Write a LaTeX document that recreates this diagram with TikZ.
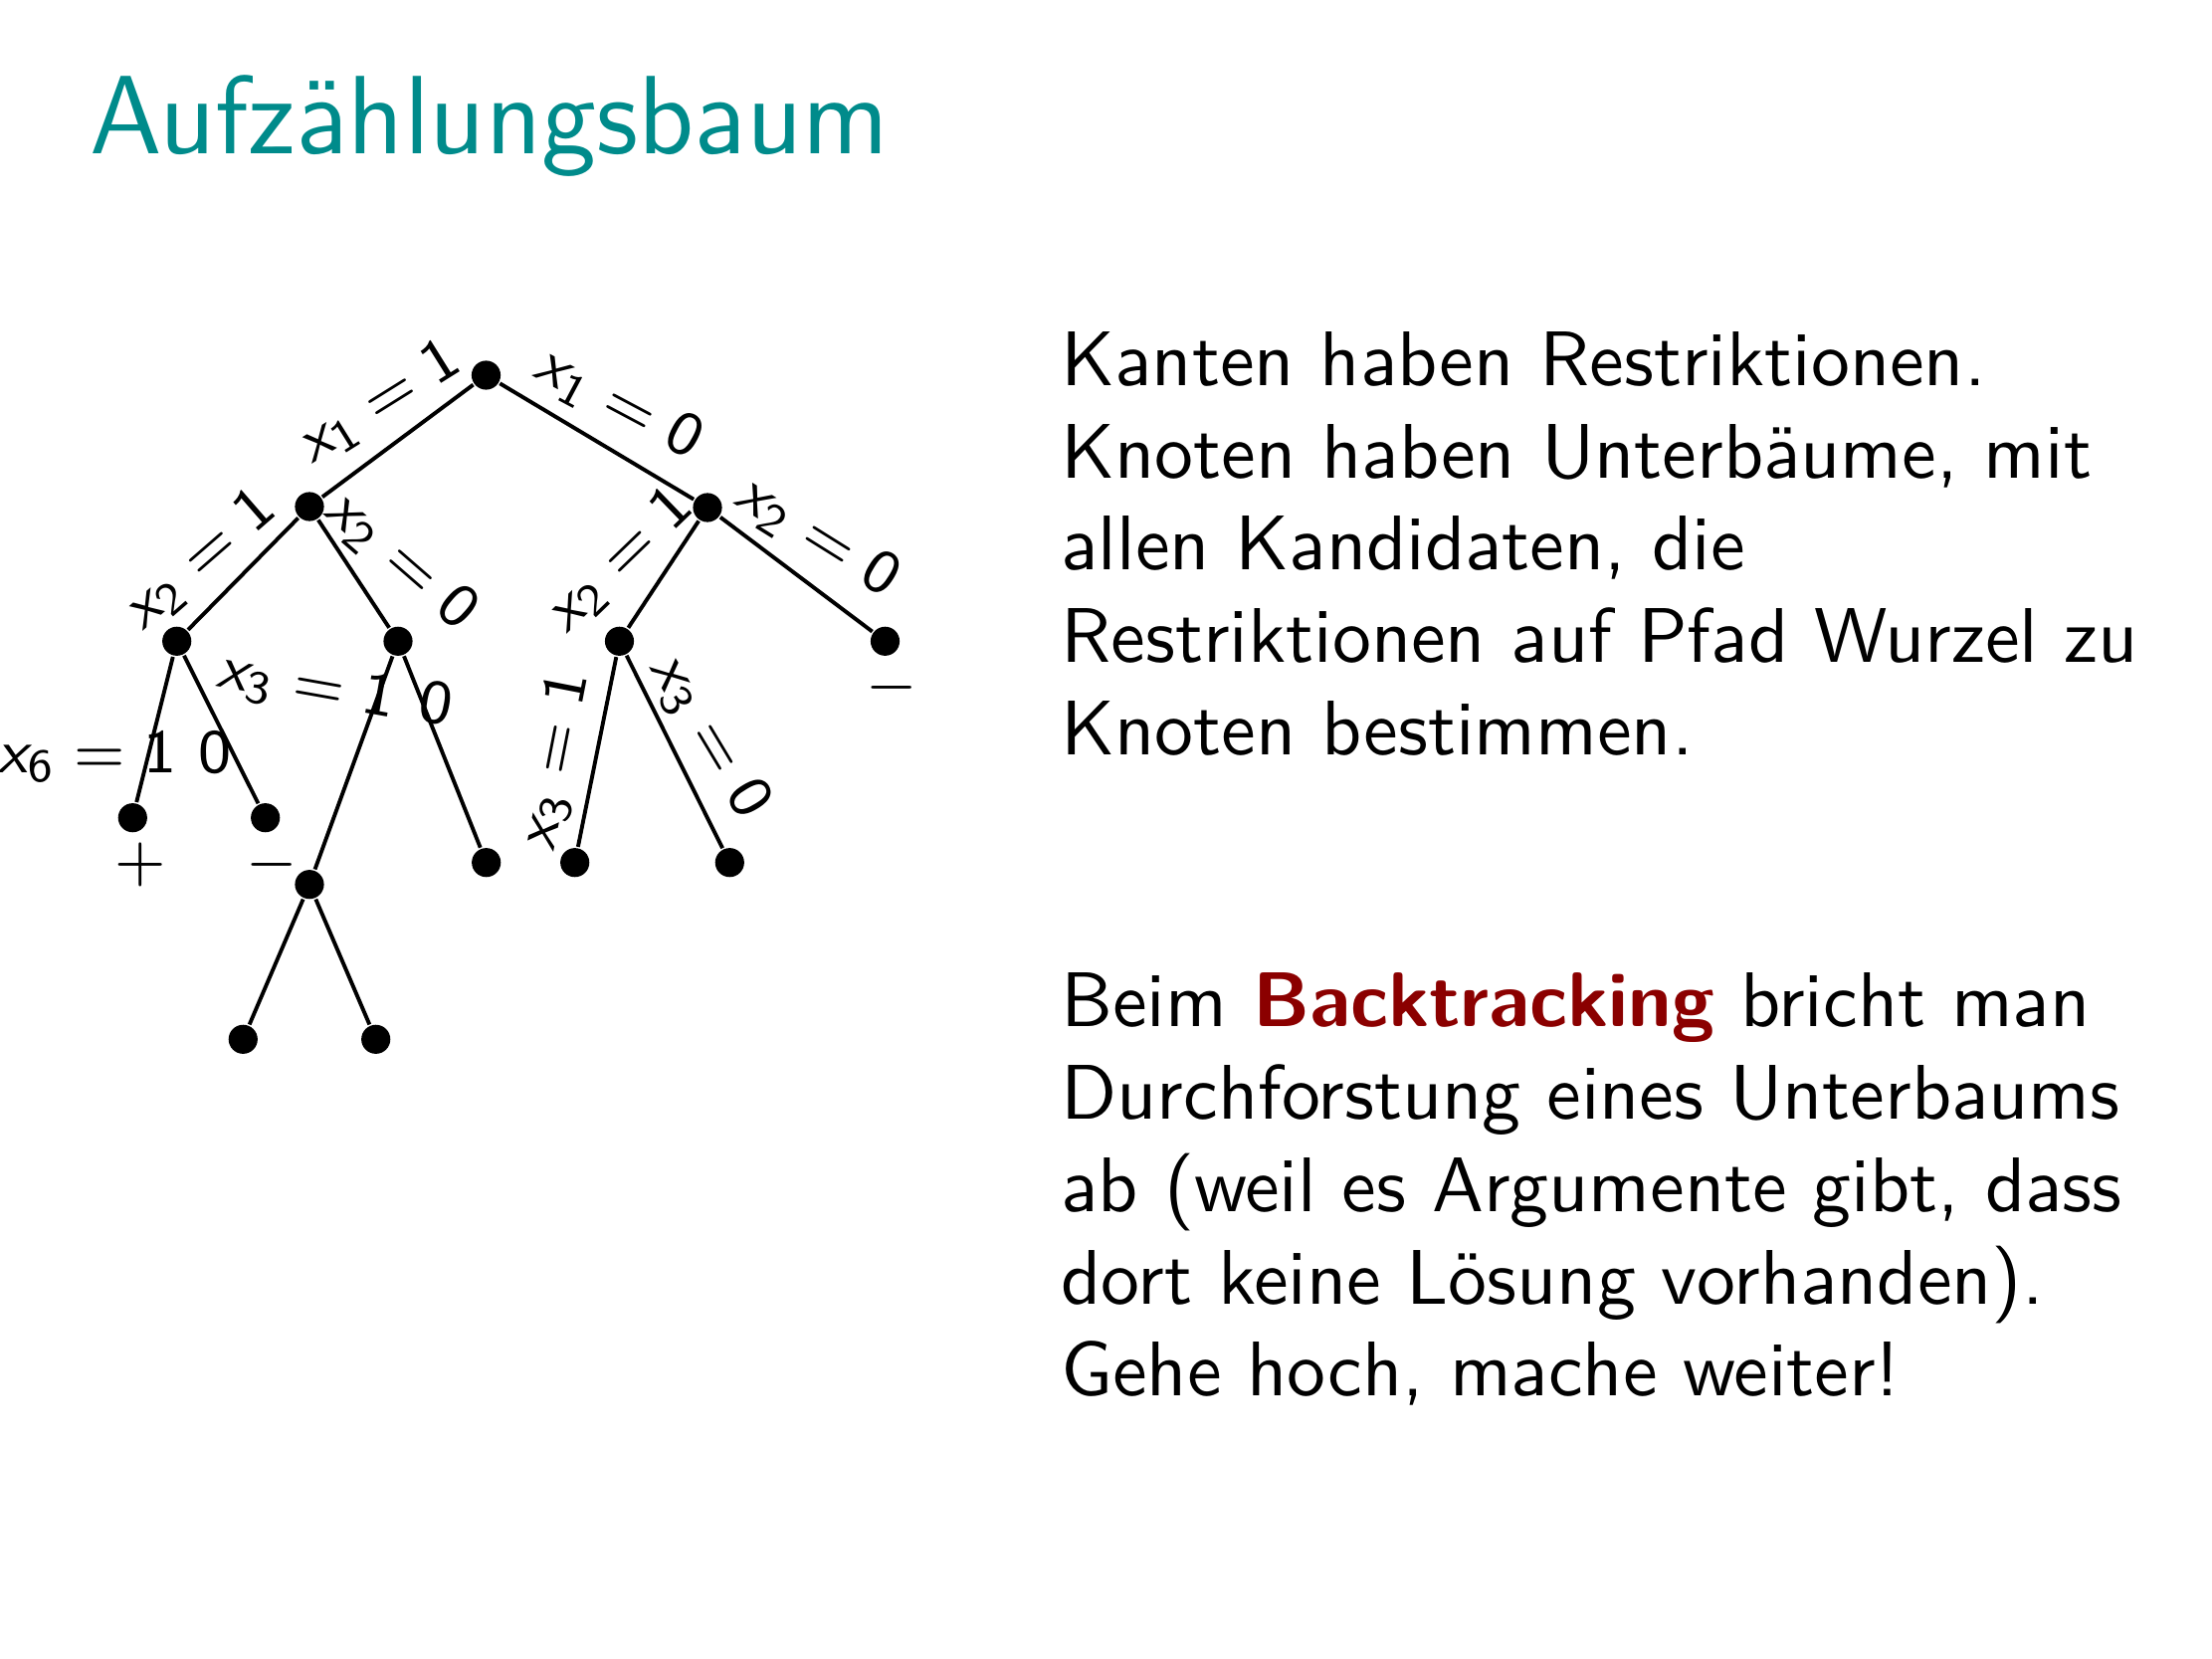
\documentclass[tikz,border=0pt]{standalone}
\usepackage{tikz}
\definecolor{framecol}{RGB}{0,139,139}
\definecolor{alertcol}{RGB}{139,0,0}
% edge restriction x_i = v, set in slanted sans
\newcommand{\asg}[2]{$\textsl{x}_{\mathsf{#1}}=\mathsf{#2}$}
\begin{document}
\begin{tikzpicture}[x=0.12856pt, y=-0.12856pt,
  dot/.style={circle, fill=black, inner sep=0pt, minimum size=3.75pt},
  edge/.style={line width=0.5pt},
  elab/.style={font=\sffamily\fontsize{8}{9.6}\selectfont, inner sep=0pt},
  sign/.style={font=\fontsize{8}{9.6}\selectfont, inner sep=0pt, anchor=base},
  body/.style={font=\sffamily\fontsize{10}{11.93}\selectfont, inner sep=0pt, anchor=base west},
  heading/.style={font=\sffamily\fontsize{14.4}{17}\selectfont, text=framecol, inner sep=0pt, anchor=base west}]
\useasboundingbox (0,0) rectangle (2223,1667);

% frame title
\node[heading] (title) at (89,155) {Aufzählungsbaum};

% tree nodes
\node[dot] (root) at (488.5,377) {};
\node[dot] (l)    at (311,509) {};
\node[dot] (r)    at (711,510) {};
\node[dot] (ll)   at (177.7,644.3) {};
\node[dot] (lr)   at (400,644.3) {};
\node[dot] (rl)   at (622.5,644.3) {};
\node[dot] (rr)   at (889.5,644.3) {};
\node[dot] (lll)  at (133.3,821.7) {};
\node[dot] (llr)  at (266.7,821.7) {};
\node[dot] (lrl)  at (311,888.7) {};
\node[dot] (lrr)  at (488.7,866.7) {};
\node[dot] (rll)  at (577.7,866.7) {};
\node[dot] (rlr)  at (733.3,866.7) {};
\node[dot] (lrll) at (244.3,1044.3) {};
\node[dot] (lrlr) at (377.7,1044.3) {};

% tree edges
\draw[edge] (root) -- (l);
\draw[edge] (root) -- (r);
\draw[edge] (l) -- (ll);
\draw[edge] (l) -- (lr);
\draw[edge] (r) -- (rl);
\draw[edge] (r) -- (rr);
\draw[edge] (ll) -- (lll);
\draw[edge] (ll) -- (llr);
\draw[edge] (lr) -- (lrl);
\draw[edge] (lr) -- (lrr);
\draw[edge] (rl) -- (rll);
\draw[edge] (rl) -- (rlr);
\draw[edge] (lrl) -- (lrll);
\draw[edge] (lrl) -- (lrlr);

% edge restrictions
\node[elab, rotate=32]    (e1)  at (382,405)     {\asg{1}{1}};
\node[elab, rotate=-28]   (e2)  at (621.5,406)   {\asg{1}{0}};
\node[elab, rotate=41]    (e3)  at (201.5,563.5) {\asg{2}{1}};
\node[elab, rotate=-41]   (e4)  at (403,564)     {\asg{2}{0}};
\node[elab, rotate=44]    (e5)  at (623.5,563.5) {\asg{2}{1}};
\node[elab, rotate=-32]   (e6)  at (821.5,540)   {\asg{2}{0}};
\node[elab, rotate=79]    (e7)  at (558,765)     {\asg{3}{1}};
\node[elab, rotate=-59]   (e8)  at (713,740)     {\asg{3}{0}};
\node[elab, anchor=base]  (e9)  at (87.5,776.7)  {\asg{6}{1}};
\node[elab, anchor=base]  (e10) at (216.5,776.7) {$\mathsf{0}$};
\node[elab, rotate=-10]   (e11) at (308,690)     {\asg{3}{1}};
\node[elab, rotate=-10]   (e12) at (438,706)     {$\mathsf{0}$};

% leaf verdicts
\node[sign] (s1) at (141,884)   {$+$};
\node[sign] (s2) at (273.3,884) {$-$};
\node[sign] (s3) at (896,706.6) {$-$};

% explanation
\node[body] (p1) at (1065,387.3) {\vtop{\hsize=220pt\parindent=0pt\raggedright
Kanten haben Restriktionen.\\
Knoten haben Unterbäume, mit\\
allen Kandidaten, die\\
Restriktionen auf Pfad Wurzel zu\\
Knoten bestimmen.\par}};
\node[body] (p2) at (1065,1031.7) {\vtop{\hsize=220pt\parindent=0pt\raggedright
Beim {\color{alertcol}\bfseries Backtracking} bricht man\\
Durchforstung eines Unterbaums\\
ab (weil es Argumente gibt, dass\\
dort keine Lösung vorhanden).\\
Gehe hoch, mache weiter!\par}};
\end{tikzpicture}
\end{document}
